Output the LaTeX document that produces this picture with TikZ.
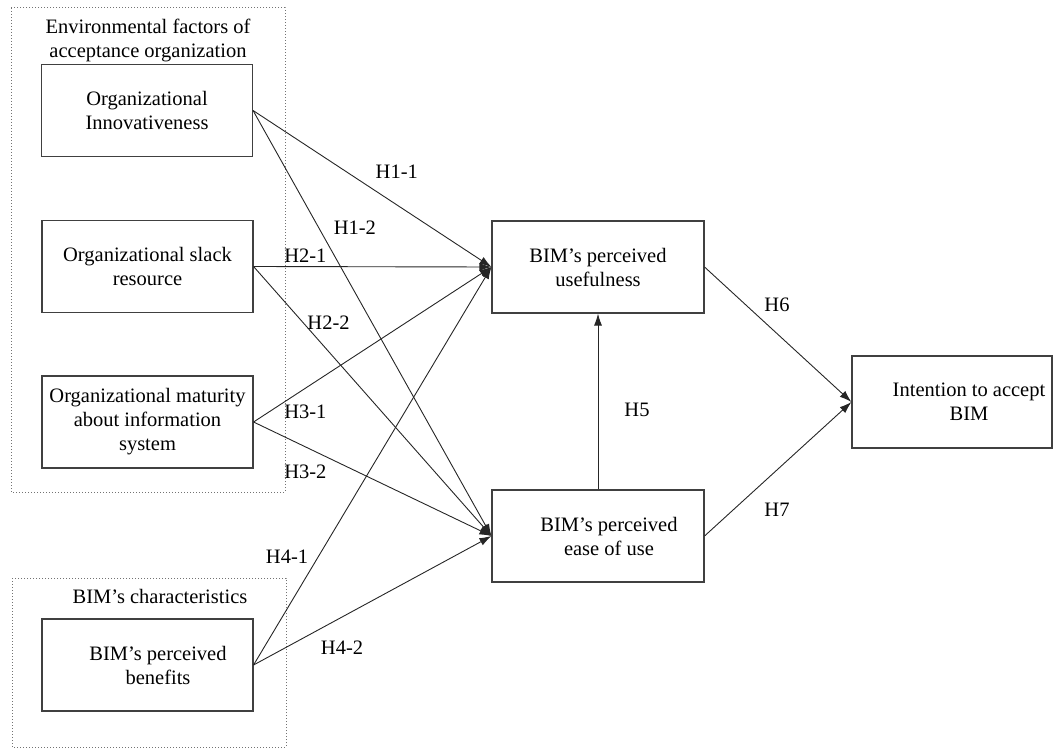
\documentclass[tikz,border=0pt]{standalone}
\usepackage{fontspec}
\setmainfont{Liberation Serif}
\usetikzlibrary{arrows.meta}

\begin{document}
\begin{tikzpicture}[x=1pt,y=-1pt,>={Latex[length=12pt,width=8pt]},font=\fontsize{20.5}{24}\selectfont,
	main node/.style={rectangle,draw=black!75,line width=1.1pt,minimum width=211pt,minimum height=92pt,inner sep=0pt,align=center},
	group box/.style={draw=black!55,dotted,line width=1pt},
	hyp/.style={->,line width=0.9pt,every edge/.append style={draw=black!85}}]

	\useasboundingbox (0,0) rectangle (1054,749);

	% groups of factors
	\draw[group box] (11,8) rectangle (285,492);
	\draw[group box] (12,578) rectangle (286,747);
	\node[align=center] (g1) at (148,40) {Environmental factors of\\acceptance organization};
	\node (g2) at (160,596) {BIM's characteristics};

	\node[main node] (1) at (147,110.5) {Organizational\\Innovativeness};
	\node[main node] (2) at (147.5,266.5) {Organizational slack\\resource};
	\node[main node] (3) at (147.5,422) {Organizational maturity\\about information\\system};
	\node[main node] (4) at (147.5,665) {\hspace*{21pt}BIM's perceived\\\hspace*{21pt}benefits};
	\node[main node,minimum width=212pt] (5) at (598,267) {BIM's perceived\\usefulness};
	\node[main node,minimum width=212pt] (6) at (598,536) {\hspace*{22pt}BIM's perceived\\\hspace*{22pt}ease of use};
	\node[main node,minimum width=200pt] (7) at (952,402) {\hspace*{34pt}Intention to accept\\\hspace*{34pt}BIM};

	\path[hyp]
	(1.east) edge node[pos=.603,yshift=33pt] {H1-1} (5.west)
	         edge node[pos=.276,xshift=36pt] {H1-2} (6.west)
	(2.east) edge node[pos=.218,yshift=11pt] {H2-1} (5.west)
	         edge node[pos=.21,xshift=25pt] {H2-2} (6.west)
	(3.east) edge node[pos=.218,yshift=-24pt] {H3-1} (5.west)
	         edge node[pos=.218,yshift=-25pt] {H3-2} (6.west)
	(4.east) edge node[pos=.271,xshift=-31pt] {H4-1} (5.west)
	         edge node[pos=.372,yshift=-31pt] {H4-2} (6.west)
	(6.north) edge node[pos=.452,xshift=39pt] {H5} (5.south)
	(5.east) edge node[pos=.493,yshift=29pt] {H6} (7.west)
	(6.east) edge node[pos=.493,yshift=-40pt] {H7} (7.west)
	;
\end{tikzpicture}
\end{document}
